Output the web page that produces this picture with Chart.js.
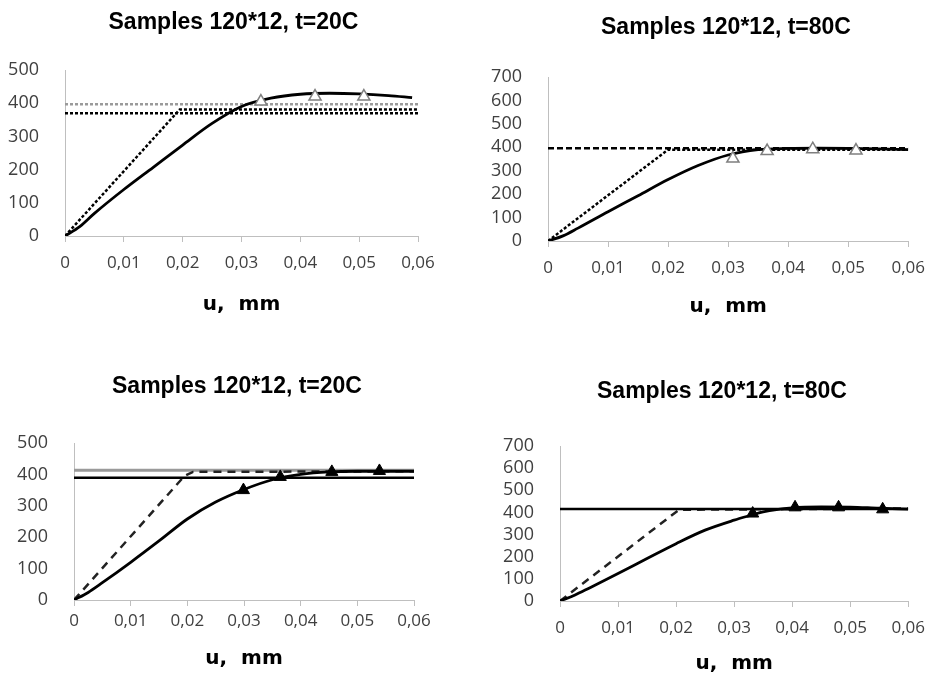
<!DOCTYPE html>
<html>
<head>
<meta charset="utf-8">
<script src="https://cdn.jsdelivr.net/npm/chart.js@4.4.1/dist/chart.umd.min.js"></script>
<style>
  html, body { margin: 0; padding: 0; background: #fff; overflow: hidden; }
  canvas { position: absolute; }
</style>
</head>
<body>
<canvas id="c1" width="467" height="330" style="left:0;top:0"></canvas>
<canvas id="c2" width="456" height="332" style="left:480px;top:0"></canvas>
<canvas id="c3" width="474" height="333" style="left:0;top:345px"></canvas>
<canvas id="c4" width="456" height="333" style="left:480px;top:345px"></canvas>
<script>
// titles and tick labels
const titles = ['Samples 120*12, t=20C', 'Samples 120*12, t=80C', 'Samples 120*12, t=20C', 'Samples 120*12, t=80C'];
const xTickLabels = ['0', '0,01', '0,02', '0,03', '0,04', '0,05', '0,06'];
const xAxisLabel = 'u,  mm';
const yMax = [500, 700, 500, 700];

// panel 1 (top left, 20C, open triangles)
const aCurveU = [0, 0.0025, 0.005, 0.01, 0.015, 0.02, 0.025, 0.03, 0.035, 0.04, 0.045, 0.05, 0.055, 0.059];
const aCurveF = [0, 28, 68, 140, 207, 274, 339, 390, 415, 427, 430, 428, 423, 417];
const aMarkU = [0.0333, 0.0425, 0.0508];
const aMarkF = [405, 420, 420];
const aBilinU = [0, 0.0195, 0.06];
const aBilinF = [0, 381, 381];
const aLowU = [0, 0.06];
const aLowF = [370, 370];
const aHighU = [0, 0.06];
const aHighF = [397, 397];

// panel 2 (top right, 80C, open triangles)
const bCurveU = [0, 0.0025, 0.005, 0.01, 0.015, 0.02, 0.025, 0.03, 0.035, 0.04, 0.045, 0.05, 0.055, 0.06];
const bCurveF = [0, 22, 55, 125, 193, 262, 322, 367, 390, 395, 396, 395, 393, 390];
const bMarkU = [0.0308, 0.0365, 0.0441, 0.0513];
const bMarkF = [352, 384, 392, 386];
const bBilinU = [0, 0.02, 0.06];
const bBilinF = [0, 390, 390];
const bLevelU = [0, 0.06];
const bLevelF = [396, 396];

// panel 3 (bottom left, 20C, filled triangles)
const cCurveU = [0, 0.0025, 0.005, 0.01, 0.015, 0.02, 0.025, 0.03, 0.035, 0.04, 0.045, 0.05, 0.06];
const cCurveF = [0, 24, 55, 120, 188, 258, 312, 352, 383, 400, 408, 410, 410];
const cMarkU = [0.0299, 0.0364, 0.0455, 0.0539];
const cMarkF = [350, 392, 408, 411];
const cBilinU = [0, 0.0195, 0.021, 0.06];
const cBilinF = [0, 395, 408, 410];
const cLowU = [0, 0.06];
const cLowF = [389, 389];
const cHighU = [0, 0.06];
const cHighF = [413, 413];

// panel 4 (bottom right, 80C, filled triangles)
const dCurveU = [0, 0.0025, 0.005, 0.01, 0.015, 0.02, 0.025, 0.03, 0.033, 0.035, 0.04, 0.045, 0.05, 0.055, 0.06];
const dCurveF = [0, 26, 58, 124, 192, 259, 320, 365, 388, 403, 421, 425, 424, 419, 415];
const dMarkU = [0.0332, 0.0405, 0.048, 0.0556];
const dMarkF = [395, 423, 423, 414];
const dBilinU = [0, 0.0205, 0.06];
const dBilinF = [0, 412, 418];
const dLevelU = [0, 0.06];
const dLevelF = [415, 415];

function pts(xs, ys) {
    return xs.map((x, i) => ({ x: x, y: ys[i] }));
}

function curve(xs, ys) {
    return {
        data: pts(xs, ys), showLine: true, pointRadius: 0,
        borderColor: '#000', borderWidth: 2.8,
        cubicInterpolationMode: 'monotone'
    };
}

function line(xs, ys, color, width, dash) {
    return {
        data: pts(xs, ys), showLine: true, pointRadius: 0,
        borderColor: color, borderWidth: width, borderDash: dash || [],
        tension: 0
    };
}

function marks(xs, ys, open) {
    return {
        data: pts(xs, ys), showLine: false, pointStyle: 'triangle',
        pointRadius: 7,
        pointBackgroundColor: open ? '#fff' : '#000',
        pointBorderColor: open ? '#7f7f7f' : '#000',
        pointBorderWidth: open ? 1.5 : 1
    };
}

// lay: padR right padding, yW y-axis width, xH x-axis height, titleX title centre,
// tTop/tBot title padding, tickPad x label gap, labPad axis title gap
function makeChart(id, idx, datasets, lay) {
    const ctx = document.getElementById(id).getContext('2d');
    // move the title so it is centred where the reference has it
    const titleShift = {
        id: 'titleShift',
        afterLayout(chart) {
            const t = chart.titleBlock;
            if (!t) return;
            const dx = lay.titleX - (t.left + t.right) / 2;
            t.left += dx;
            t.right += dx;
        }
    };
    return new Chart(ctx, {
        type: 'scatter',
        data: { datasets: datasets },
        plugins: [titleShift],
        options: {
            responsive: false,
            animation: false,
            devicePixelRatio: 1,
            layout: { padding: { left: 0, right: lay.padR, top: 0, bottom: 0 } },
            plugins: {
                legend: { display: false },
                tooltip: { enabled: false },
                title: {
                    display: true,
                    text: titles[idx],
                    color: '#000',
                    font: { family: 'Liberation Sans', size: 23, weight: 'bold', lineHeight: 1.2 },
                    padding: { top: lay.tTop, bottom: lay.tBot }
                }
            },
            scales: {
                x: {
                    type: 'linear', min: 0, max: 0.06,
                    afterFit: s => { s.height = lay.xH; },
                    ticks: {
                        stepSize: 0.01,
                        padding: lay.tickPad,
                        color: '#404040',
                        font: { family: 'Open Sans', size: 17 },
                        maxRotation: 0,
                        autoSkip: false,
                        callback: v => xTickLabels[Math.round(v * 100)]
                    },
                    grid: { display: true, drawOnChartArea: false, drawTicks: true, tickLength: 6, color: '#bfbfbf' },
                    border: { display: true, color: '#bfbfbf', width: 1 },
                    title: {
                        display: true, text: xAxisLabel, color: '#000',
                        font: { family: 'DejaVu Sans', size: 20, weight: 'bold', lineHeight: 1.2 },
                        padding: { top: 0, bottom: lay.labPad }
                    }
                },
                y: {
                    type: 'linear', min: 0, max: yMax[idx],
                    afterFit: s => { s.width = lay.yW; },
                    ticks: {
                        stepSize: 100,
                        padding: 18,
                        autoSkip: false,
                        color: '#404040',
                        font: { family: 'Open Sans', size: 18 }
                    },
                    grid: { display: false },
                    border: { display: true, color: '#bfbfbf', width: 1 }
                }
            }
        }
    });
}

makeChart('c1', 0, [
    marks(aMarkU, aMarkF, true),
    curve(aCurveU, aCurveF),
    line(aBilinU, aBilinF, '#000', 2.5, [3, 2]),
    line(aLowU, aLowF, '#000', 2.5, [3, 2]),
    line(aHighU, aHighF, '#9a9a9a', 2.5, [3, 2])
], { padR: 49, yW: 65, titleX: 233.5, xH: 94, tTop: 9, tBot: 33.4, tickPad: 11, labPad: 13 });

makeChart('c2', 1, [
    marks(bMarkU, bMarkF, true),
    curve(bCurveU, bCurveF),
    line(bLevelU, bLevelF, '#000', 2.5, [6, 3]),
    line(bBilinU, bBilinF, '#000', 2.5, [3, 2])
], { padR: 18, yW: 68, titleX: 246, xH: 91, tTop: 14, tBot: 35.4, tickPad: 11, labPad: 13 });

makeChart('c3', 2, [
    marks(cMarkU, cMarkF, false),
    curve(cCurveU, cCurveF),
    line(cBilinU, cBilinF, '#222', 2.5, [8, 6]),
    line(cLowU, cLowF, '#000', 2.5),
    line(cHighU, cHighF, '#9a9a9a', 3)
], { padR: 60, yW: 74, titleX: 237, xH: 78, tTop: 28, tBot: 42.4, tickPad: 5, labPad: 7 });

makeChart('c4', 3, [
    marks(dMarkU, dMarkF, false),
    curve(dCurveU, dCurveF),
    line(dLevelU, dLevelF, '#000', 2.5),
    line(dBilinU, dBilinF, '#222', 2.5, [8, 6])
], { padR: 27, yW: 80, titleX: 242, xH: 77, tTop: 33, tBot: 40.4, tickPad: 11, labPad: 2 });
</script>
</body>
</html>
